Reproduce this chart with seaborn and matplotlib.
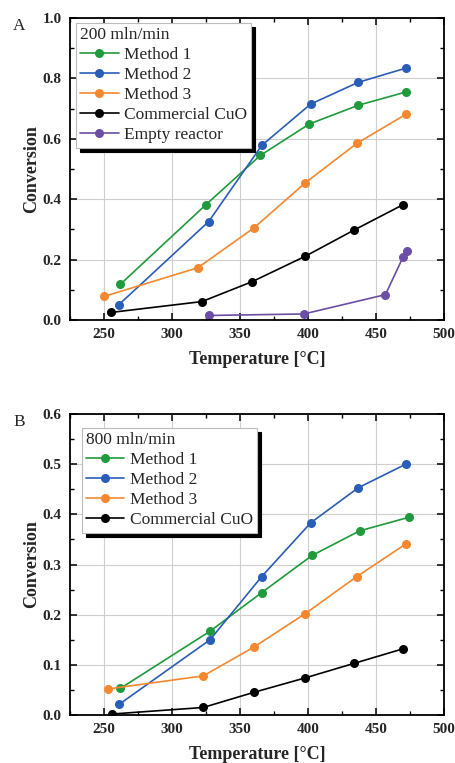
import matplotlib
matplotlib.use("Agg")
import matplotlib.pyplot as plt
import seaborn as sns
import pandas as pd
from matplotlib.ticker import MultipleLocator, AutoMinorLocator, FormatStrFormatter

# ---- data, panel A (200 mln/min) ----
a_m1_t = [262, 325, 365, 401, 437, 472]
a_m1_c = [0.118, 0.382, 0.545, 0.649, 0.711, 0.755]
a_m2_t = [261, 327, 366, 402, 437, 472]
a_m2_c = [0.051, 0.326, 0.578, 0.715, 0.787, 0.834]
a_m3_t = [250, 319, 360, 398, 436, 472]
a_m3_c = [0.078, 0.173, 0.304, 0.454, 0.585, 0.681]
a_cuo_t = [255, 322, 359, 398, 434, 470]
a_cuo_c = [0.025, 0.061, 0.127, 0.211, 0.298, 0.382]
a_emp_t = [327, 397, 457, 470, 473]
a_emp_c = [0.015, 0.020, 0.084, 0.209, 0.229]

# ---- data, panel B (800 mln/min) ----
b_m1_t = [262, 328, 366, 403, 438, 474]
b_m1_c = [0.053, 0.167, 0.244, 0.318, 0.367, 0.394]
b_m2_t = [261, 328, 366, 402, 437, 472]
b_m2_c = [0.021, 0.150, 0.276, 0.383, 0.453, 0.500]
b_m3_t = [253, 323, 360, 398, 436, 472]
b_m3_c = [0.052, 0.078, 0.135, 0.202, 0.276, 0.341]
b_cuo_t = [256, 323, 360, 398, 434, 470]
b_cuo_c = [0.002, 0.015, 0.045, 0.074, 0.103, 0.132]

series_names = ["Method 1", "Method 2", "Method 3", "Commercial CuO", "Empty reactor"]
colors = {"Method 1": "#1f9a3c", "Method 2": "#2a5db8", "Method 3": "#f5882e",
          "Commercial CuO": "#000000", "Empty reactor": "#6b4ea5"}


def to_frame(pairs):
    rows = []
    for name, (t, c) in pairs.items():
        for ti, ci in zip(t, c):
            rows.append({"Temperature": ti, "Conversion": ci, "Series": name})
    return pd.DataFrame(rows)


df_a = to_frame({"Method 1": (a_m1_t, a_m1_c), "Method 2": (a_m2_t, a_m2_c),
                 "Method 3": (a_m3_t, a_m3_c), "Commercial CuO": (a_cuo_t, a_cuo_c),
                 "Empty reactor": (a_emp_t, a_emp_c)})
df_b = to_frame({"Method 1": (b_m1_t, b_m1_c), "Method 2": (b_m2_t, b_m2_c),
                 "Method 3": (b_m3_t, b_m3_c), "Commercial CuO": (b_cuo_t, b_cuo_c)})

sns.set_theme(style="whitegrid")
plt.rcParams['font.family'] = ['Liberation Serif', 'DejaVu Serif']

fig = plt.figure(figsize=(4.56, 7.63), dpi=100)
ax_a = fig.add_axes([0.1535, 0.5806, 0.820, 0.3958])
ax_b = fig.add_axes([0.1535, 0.0629, 0.820, 0.3945])


def draw_panel(ax, df, ymax, ystep, title, leg_xy, letter):
    names = [n for n in series_names if n in df["Series"].unique()]
    sns.lineplot(data=df, x="Temperature", y="Conversion", hue="Series",
                 hue_order=names, palette=colors, marker="o", markersize=6.5,
                 markeredgewidth=0, linewidth=1.2, sort=False, estimator=None,
                 ax=ax)
    ax.set_xlim(225, 500)
    ax.set_ylim(0, ymax)
    ax.xaxis.set_major_locator(MultipleLocator(50))
    ax.yaxis.set_major_locator(MultipleLocator(ystep))
    ax.xaxis.set_minor_locator(AutoMinorLocator(2))
    ax.yaxis.set_minor_locator(AutoMinorLocator(2))
    ax.grid(True, which="major", color="#cfcfcf", linewidth=0.8)
    ax.grid(False, which="minor")
    ax.set_facecolor("white")
    for s in ax.spines.values():
        s.set_color("black")
        s.set_linewidth(1.3)
    ax.tick_params(which="both", direction="in", top=True, right=True,
                   bottom=True, left=True, color="black")
    ax.tick_params(which="major", length=5, width=1.1, labelsize=11, pad=6)
    ax.tick_params(which="minor", length=3, width=1.0)
    ax.yaxis.set_major_formatter(FormatStrFormatter("%.1f"))
    for lab in ax.get_xticklabels() + ax.get_yticklabels():
        lab.set_fontweight("bold")
    ax.set_xlabel("Temperature [°C]", fontsize=13, fontweight="bold", labelpad=7)
    ax.set_ylabel("Conversion", fontsize=13, fontweight="bold", labelpad=2)
    leg = ax.legend(title=title, loc="upper left", bbox_to_anchor=leg_xy,
                    borderaxespad=0, fontsize=12.5, title_fontsize=12.5,
                    frameon=True, fancybox=False, handlelength=2.2,
                    handletextpad=0.3, labelspacing=0.22, borderpad=0.25,
                    alignment="left",
                    shadow={"ox": 3.0, "oy": -3.0, "facecolor": "black",
                            "edgecolor": "black", "alpha": 1.0})
    leg.get_frame().set_edgecolor("#bbbbbb")
    leg.get_frame().set_linewidth(0.8)
    leg.get_frame().set_facecolor("white")
    leg.get_frame().set_alpha(1.0)
    ax.text(-0.152, 1.0, letter, transform=ax.transAxes, fontsize=12.5,
            ha="left", va="top")


draw_panel(ax_a, df_a, 1.0, 0.2, "200 mln/min", (0.016, 0.983), "A")
draw_panel(ax_b, df_b, 0.6, 0.1, "800 mln/min", (0.032, 0.953), "B")

fig.savefig("out.png", dpi=100)
